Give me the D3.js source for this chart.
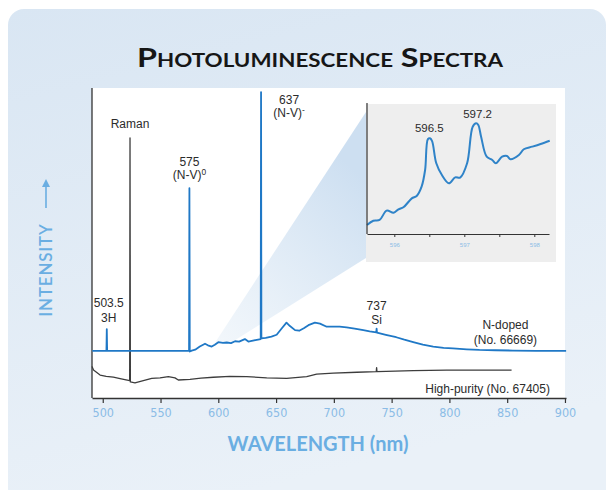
<!DOCTYPE html>
<html><head><meta charset="utf-8">
<script src="https://cdn.jsdelivr.net/npm/d3@7/dist/d3.min.js"></script>
<style>html,body{margin:0;padding:0;background:#fff;} svg{display:block}</style>
</head><body>
<script>
// ---------- data ----------
const nDopedWl = [491,503.2,503.5,503.8,574.7,575,575.3,577,580,584,588.5,591,594.3,597,600,604,607.3,611,614.5,618,623,626,631,636.7,637,637.3,641,646,650.5,655,659,662,666.4,670,674,678,683.6,688,693.8,699.5,705,711,718,725.5,731,736.7,737,737.3,745,754,761,768.7,777,786,795,803,815,826,840,855,875,901];
const nDopedI  = [15.2,15.2,22.2,15.2,15.2,67.7,15.0,15.3,15.6,16.6,17.5,17.0,16.6,17.2,18.0,17.8,17.9,17.7,18.3,18.2,19.0,18.2,18.6,19.0,98.7,19.2,19.4,19.8,20.4,22.5,24.3,23.2,21.9,21.7,22.5,23.5,24.3,24.0,23.0,23.0,23.0,22.8,22.4,21.9,21.5,21.2,22.4,21.1,20.4,19.6,18.8,18.0,17.2,16.6,16.2,16.0,15.7,15.5,15.4,15.3,15.2,15.2];

const highPurityWl = [490.7,492,497.7,503,509.2,516,523.3,523.6,523.9,527.9,535.1,542.4,549.6,556.8,562.5,565.4,575.5,585,595.7,610,624.6,641.9,659.2,676.5,685.1,699.5,720,736.7,737,737.3,768.7,797.6,830,853.8];
const highPurityI  = [10.2,9.0,7.4,7.0,6.7,6.2,5.6,83.9,5.2,4.9,5.6,6.3,6.5,6.9,6.5,5.8,6.0,6.4,6.7,7.0,6.9,6.5,6.3,6.9,7.7,8.0,8.3,8.5,9.8,8.5,8.8,9.0,9.0,9.0];

const insetWl = [595.61,595.70,595.79,595.89,595.99,596.06,596.13,596.25,596.32,596.39,596.44,596.48,596.51,596.54,596.60,596.68,596.78,596.87,596.94,597.04,597.12,597.17,597.20,597.24,597.32,597.40,597.45,597.54,597.61,597.66,597.78,597.85,597.97,598.09,598.22];
const insetI  = [7.0,10.3,10.9,18.1,16.5,19.1,20.7,27.6,29.5,36.7,49.6,73.5,74.2,72.0,54.8,45.7,39.3,43.9,43.7,54.8,83.2,85.8,84.5,75.4,59.9,57.4,54.8,59.9,60.5,57.9,61.2,65.7,67.7,69.8,72.3];

const xTickValues = [500,550,600,650,700,750,800,850,900];
const insetTickValues = [596,596.5,597,597.5,598];
const insetTickLabels = ["596","","597","","598"];
const zoomBase = [596, 613];   // wavelength span of the zoom wedge on the main spectrum

// ---------- drawing ----------
const W = 613, H = 490;
const svg = d3.select("body").append("svg").attr("width", W).attr("height", H);
const defs = svg.append("defs");

const bg = defs.append("linearGradient").attr("id","bg").attr("x1",0).attr("y1",0).attr("x2",0.3).attr("y2",1);
bg.append("stop").attr("offset","0%").attr("stop-color","#d9e6f3");
bg.append("stop").attr("offset","100%").attr("stop-color","#eaf1f8");

svg.append("rect").attr("x",8).attr("y",9).attr("width",598).attr("height",500).attr("rx",16).attr("fill","url(#bg)");

// title
svg.append("text").attr("x",320).attr("y",67).attr("text-anchor","middle")
  .attr("font-family","Lato, 'Open Sans', sans-serif").attr("font-weight","bold")
  .attr("font-size",26).style("font-variant","small-caps").attr("fill","#161616")
  .attr("textLength",366).attr("lengthAdjust","spacingAndGlyphs")
  .text("Photoluminescence Spectra");

const x = d3.scaleLinear().domain([490.7, 900.9]).range([92, 566]);
const y = d3.scaleLinear().domain([0, 100]).range([398, 88]);

// plot white background
svg.append("rect").attr("x",x.range()[0]).attr("y",y.range()[1])
  .attr("width",x(900)-x.range()[0]).attr("height",y.range()[0]-y.range()[1]).attr("fill","#fff");

// inset geometry
const ix = d3.scaleLinear().domain([595.61, 598.21]).range([367, 549]);
const iy = d3.scaleLinear().domain([0, 100]).range([234, 105]);
const insetBox = {x0: 366, x1: 556, y0: 104, y1: 262};

// wedge
const wg = defs.append("linearGradient").attr("id","wedge").attr("gradientUnits","userSpaceOnUse")
  .attr("x1", x(zoomBase[0])).attr("y1", 345).attr("x2", insetBox.x0).attr("y2", 180);
wg.append("stop").attr("offset","0%").attr("stop-color","#d6e5f3").attr("stop-opacity",0.3);
wg.append("stop").attr("offset","100%").attr("stop-color","#cddff1").attr("stop-opacity",1);

const curveAt = wl => {
  const i = d3.bisectLeft(nDopedWl, wl);
  return nDopedI[Math.max(0, Math.min(i, nDopedI.length-1))];
};
const wedgePts = [
  [x(zoomBase[0]), y(curveAt(zoomBase[0]))],
  [insetBox.x0, insetBox.y0 + 8],
  [insetBox.x0, insetBox.y1 - 4],
  [x(zoomBase[1]), y(curveAt(zoomBase[1]))]
];
svg.append("path").attr("d", d3.line()(wedgePts) + "Z").attr("fill","url(#wedge)");

// inset panel
svg.append("rect").attr("x",insetBox.x0).attr("y",insetBox.y0)
  .attr("width",insetBox.x1-insetBox.x0).attr("height",insetBox.y1-insetBox.y0).attr("fill","#eeeeee");

// main axes
svg.append("line").attr("x1",x.range()[0]).attr("x2",x.range()[0]).attr("y1",y.range()[1]).attr("y2",y.range()[0])
  .attr("stroke","#333").attr("stroke-width",1.3);
const xAxis = svg.append("g").attr("transform",`translate(0,${y.range()[0]})`)
  .call(d3.axisBottom(x).tickValues(xTickValues).tickSize(5).tickSizeOuter(0).tickPadding(5));
xAxis.select(".domain").attr("stroke","#333").attr("stroke-width",1.3);
xAxis.selectAll(".tick line").attr("stroke","#333").attr("stroke-width",1.2);
xAxis.selectAll(".tick text").attr("fill","#8bbce6").attr("font-size",12.5)
  .attr("font-family","'DejaVu Sans Condensed','Liberation Sans Narrow',sans-serif");

// main curves
const line = d3.line().x(d => x(d[0])).y(d => y(d[1]));
svg.append("path").datum(highPurityWl.map((w,i)=>[w, highPurityI[i]]))
  .attr("d", line).attr("fill","none").attr("stroke","#3d3d3d").attr("stroke-width",1.3).attr("stroke-linejoin","round");
svg.append("path").datum(nDopedWl.map((w,i)=>[w, nDopedI[i]]))
  .attr("d", line).attr("fill","none").attr("stroke","#1f78c6").attr("stroke-width",1.8).attr("stroke-linejoin","round");

// annotations
const annFont = "'Liberation Sans', Arial, sans-serif";
function ann(px, py, lines, anchor="middle", size=12, lh=14) {
  const t = svg.append("text").attr("x",px).attr("y",py).attr("text-anchor",anchor)
    .attr("font-family",annFont).attr("font-size",size).attr("fill","#2b2b2b");
  lines.forEach((ln,i) => {
    const ts = t.append("tspan").attr("x",px).attr("y", py + i*lh);
    if (Array.isArray(ln)) {
      ts.text(ln[0]);
      t.append("tspan").attr("font-size",size*0.7).attr("dy","-0.45em").text(ln[1]);
    } else ts.text(ln);
  });
  return t;
}
ann(x(523.6), y(83.9)-10, ["Raman"]);
ann(x(575), y(67.7)-22, ["575", ["(N-V)","0"]], "middle", 12, 13);
ann(x(637)+28, y(98.7)+12, ["637", ["(N-V)","-"]], "middle", 12, 13);
ann(x(503.5)+2, y(22.2)-22, ["503.5", "3H"], "middle", 12, 15);
ann(x(737), y(21.2)-22, ["737", "Si"]);
ann(x(800)+56, y(15.2)-22, ["N-doped", "(No. 66669)"], "middle", 12, 15);
ann(x(900)-15, y(0)-5, ["High-purity (No. 67405)"], "end");

// inset axes and curve
const insetLine = d3.line().x(d => ix(d[0])).y(d => iy(d[1])).curve(d3.curveCatmullRom.alpha(0.5));
svg.append("path").datum(insetWl.map((w,i)=>[w, insetI[i]]))
  .attr("d", insetLine).attr("fill","none").attr("stroke","#2f83c8").attr("stroke-width",2).attr("stroke-linejoin","round");
svg.append("line").attr("x1",ix.range()[0]).attr("x2",ix.range()[0]).attr("y1",iy.range()[1]-2).attr("y2",iy.range()[0])
  .attr("stroke","#333").attr("stroke-width",1.2);
const ixAxis = svg.append("g").attr("transform",`translate(0,${iy.range()[0]})`)
  .call(d3.axisBottom(ix).tickValues(insetTickValues).tickSize(3).tickSizeOuter(0).tickPadding(6)
        .tickFormat((d,i)=>insetTickLabels[i]));
ixAxis.select(".domain").attr("stroke","#333").attr("stroke-width",1.2);
ixAxis.selectAll(".tick line").attr("stroke","#333");
ixAxis.selectAll(".tick text").attr("fill","#8bbce6").attr("font-size",6).attr("font-family",annFont);

ann(ix(596.5), iy(74.2)-6, ["596.5"], "middle", 11.5);
ann(ix(597.19), iy(85.8)-5, ["597.2"], "middle", 11.5);

// axis titles
svg.append("text").attr("x",318).attr("y",451).attr("text-anchor","middle")
  .attr("font-family","Lato, 'Open Sans', sans-serif").attr("font-weight","bold").attr("font-size",20)
  .attr("fill","#6aaee2").text("WAVELENGTH (nm)");

const yl = svg.append("g").attr("transform","translate(52,270) rotate(-90)");
yl.append("text").attr("x",0).attr("y",0).attr("text-anchor","middle")
  .attr("font-family","Lato, 'Open Sans', sans-serif").attr("font-weight",600).attr("font-size",17).attr("letter-spacing",0.8)
  .attr("fill","#6aaee2").text("INTENSITY");
yl.append("line").attr("x1",62).attr("x2",86).attr("y1",-6).attr("y2",-6).attr("stroke","#6aaee2").attr("stroke-width",1.6);
yl.append("path").attr("d","M91,-6 L83,-10 L83,-2 Z").attr("fill","#6aaee2");
</script>
</body></html>
